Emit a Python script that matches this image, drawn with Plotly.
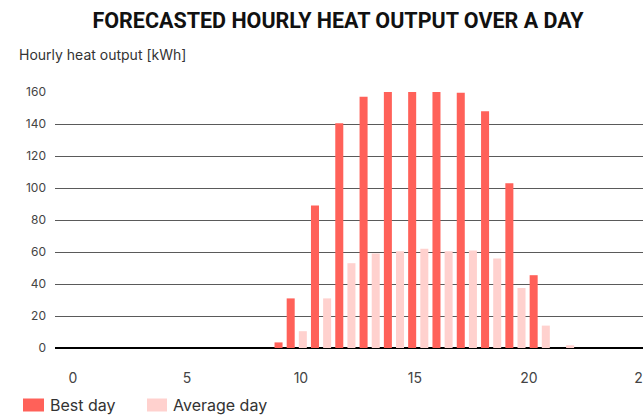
import plotly.graph_objects as go

# ---- data ----
best_hours = [9.5, 10, 11, 12, 13, 14, 15, 16, 17, 18, 19, 20]
best_values = [3.5, 31, 89, 140.5, 157, 160, 160, 160, 159.5, 148, 103, 45.5]
avg_hours = [10, 11, 12, 13, 14, 15, 16, 17, 18, 19, 20, 21]
avg_values = [10.5, 31, 53, 59, 60.5, 62, 60.5, 61, 56, 37.5, 14, 1.7]
x_tick_vals = [0, 5, 10, 15, 20, 25]
y_tick_vals = [0, 20, 40, 60, 80, 100, 120, 140, 160]
series_names = ["Best day", "Average day"]

RED = "#FF6159"
PINK = "#FFD1CE"
FONT = "Inter"
TITLE_FONT = "Roboto"

W, H = 643, 417
L, R, T, B = 55, 0, 92, 69
PW, PH = W - L - R, H - T - B


def px(xp):
    return (xp - L) / PW


def py(yp):
    return (H - B - yp) / PH


fig = go.Figure()
fig.add_bar(x=best_hours, y=best_values, name=series_names[0], marker_color=RED,
            marker_line_width=0, width=0.33, offset=-0.415, showlegend=False)
fig.add_bar(x=avg_hours, y=avg_values, name=series_names[1], marker_color=PINK,
            marker_line_width=0, width=0.33, offset=0.085, showlegend=False)
# carrier trace for the labelled hour axis
fig.add_scatter(x=[None], y=[None], xaxis="x2", showlegend=False, hoverinfo="skip")

# legend drawn as swatches + text
shapes = []
annotations = []
for name, color, x0, x1, xt in [(series_names[0], RED, 23, 44, 50),
                                (series_names[1], PINK, 147, 167, 173)]:
    shapes.append(dict(type="rect", xref="paper", yref="paper",
                       x0=px(x0), x1=px(x1), y0=py(411.5), y1=py(398.5),
                       fillcolor=color, line_width=0))
    annotations.append(dict(text=name, xref="paper", yref="paper", x=px(xt),
                            y=py(405), xanchor="left", yanchor="middle",
                            showarrow=False, xshift=-2,
                            font=dict(family=FONT, size=16, color="#333")))

annotations.append(dict(text="Hourly heat output [kWh]", xref="paper", yref="paper",
                        x=px(19), y=py(54), xanchor="left", yanchor="middle",
                        showarrow=False, xshift=-2,
                        font=dict(family=FONT, size=14, color="#333")))

fig.update_layout(
    width=W, height=H,
    margin=dict(l=L, r=R, t=T, b=B),
    paper_bgcolor="white", plot_bgcolor="white",
    barmode="overlay",
    showlegend=False,
    font=dict(family=FONT, color="#333"),
    title=dict(text="<b>FORECASTED HOURLY HEAT OUTPUT OVER A DAY</b>",
               xref="container", yref="container", x=338 / W, y=1 - 20 / H,
               xanchor="center", yanchor="middle",
               font=dict(family=TITLE_FONT, size=21.5, color="#111")),
    xaxis=dict(range=[0.05, 24.25], showticklabels=False, showgrid=False,
               zeroline=False, showline=False, automargin=False),
    xaxis2=dict(overlaying="x", anchor="y", side="bottom", range=[-0.79, 25.01],
                tickvals=x_tick_vals, showgrid=False, zeroline=False, showline=False,
                ticks="", ticklabelstandoff=20, automargin=False,
                ticklabeloverflow="allow",
                tickfont=dict(family=FONT, size=14, color="#444")),
    yaxis=dict(range=[0, 160], tickvals=y_tick_vals, showgrid=True,
               gridcolor="#5a5a5a", gridwidth=1.2, zeroline=True, zerolinecolor="#000",
               zerolinewidth=1.5, showline=False, ticks="", ticklabelstandoff=8,
               automargin=False, tickfont=dict(family=FONT, size=12, color="#444")),
    shapes=shapes,
    annotations=annotations,
)

fig.write_html("out.html",
               config={"displayModeBar": False},
               post_script="document.body.style.margin='0';"
                           "document.body.style.overflow='hidden';")
